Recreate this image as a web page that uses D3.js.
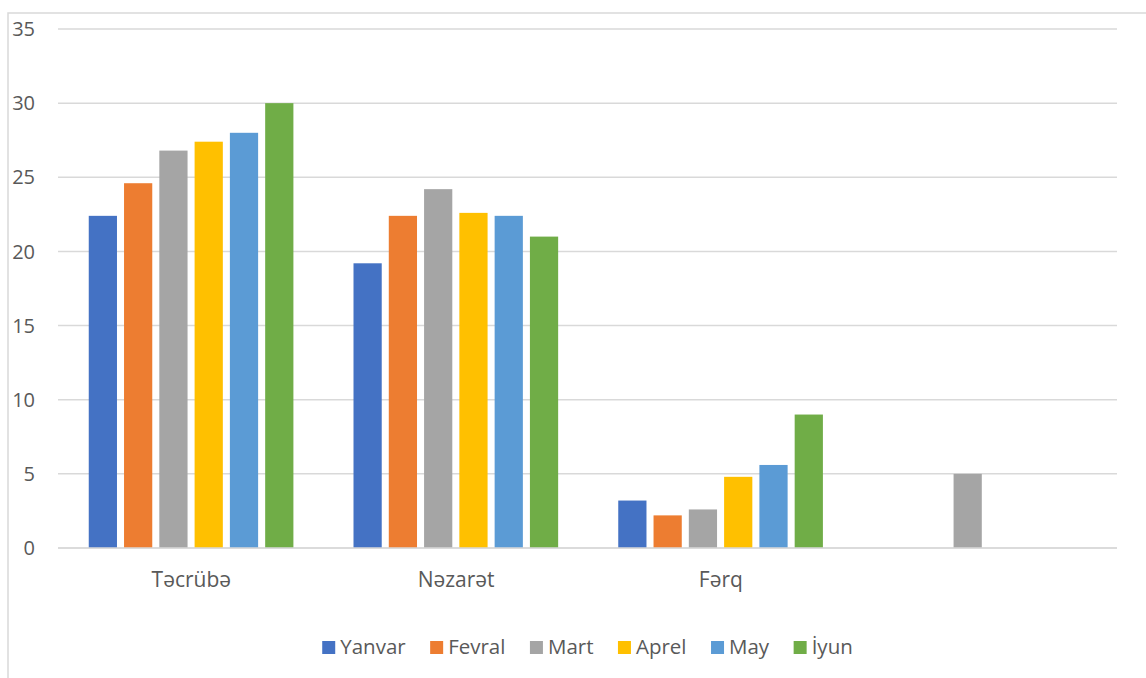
<!DOCTYPE html>
<html>
<head>
<meta charset="utf-8">
<script src="https://cdn.jsdelivr.net/npm/d3@7"></script>
<style>
  html, body { margin: 0; padding: 0; background: #fff; }
  svg { display: block; }
  text { font-family: "Open Sans", "Liberation Sans", sans-serif; fill: #595959; }
</style>
</head>
<body>
<svg id="chart" width="1146" height="678"></svg>
<script>
const categories = ["Təcrübə", "Nəzarət", "Fərq", ""];
const seriesNames = ["Yanvar", "Fevral", "Mart", "Aprel", "May", "İyun"];
const yanvar = [22.4, 19.2, 3.2, null];
const fevral = [24.6, 22.4, 2.2, null];
const mart   = [26.8, 24.2, 2.6, 5.0];
const aprel  = [27.4, 22.6, 4.8, null];
const may    = [28.0, 22.4, 5.6, null];
const iyun   = [30.0, 21.0, 9.0, null];
const seriesValues = [yanvar, fevral, mart, aprel, may, iyun];
const colors = ["#4472C4", "#ED7D31", "#A5A5A5", "#FFC000", "#5B9BD5", "#70AD47"];
const yTicks = [0, 5, 10, 15, 20, 25, 30, 35];

const svg = d3.select("#chart");
const W = 1146, H = 678;
const plot = { left: 58, right: 1117, top: 29, bottom: 548 };

svg.append("path")
  .attr("d", `M8,${H} L8,13 L${W},13`)
  .attr("fill", "none").attr("stroke", "#d9d9d9").attr("stroke-width", 1.5);

const y = d3.scaleLinear().domain([0, 35]).range([plot.bottom, plot.top]);
const x0 = d3.scaleBand().domain(d3.range(categories.length)).range([plot.left, plot.right]).padding(0);
const groupW = x0.bandwidth() * 0.773;
const x1 = d3.scaleBand().domain(seriesNames).range([0, groupW]).paddingInner(0.2).paddingOuter(0);
const groupOffset = (x0.bandwidth() - groupW) / 2 + 0.7;

svg.append("g").selectAll("line").data(yTicks).join("line")
  .attr("x1", plot.left).attr("x2", plot.right)
  .attr("y1", d => y(d)).attr("y2", d => y(d))
  .attr("stroke", "#d9d9d9").attr("stroke-width", 1.5);

svg.append("g").selectAll("text").data(yTicks).join("text")
  .attr("x", 35).attr("y", d => y(d))
  .attr("dy", "0.36em")
  .attr("text-anchor", "end")
  .attr("font-size", 20)
  .text(d => d);

const barData = [];
seriesNames.forEach((s, si) => {
  seriesValues[si].forEach((v, ci) => {
    if (v !== null) barData.push({ s, si, ci, v });
  });
});
svg.append("g").selectAll("rect").data(barData).join("rect")
  .attr("x", d => x0(d.ci) + groupOffset + x1(d.s))
  .attr("width", x1.bandwidth())
  .attr("y", d => y(d.v))
  .attr("height", d => y(0) - y(d.v))
  .attr("fill", d => colors[d.si]);

svg.append("line")
  .attr("x1", plot.left).attr("x2", plot.right)
  .attr("y1", y(0)).attr("y2", y(0))
  .attr("stroke", "#d9d9d9").attr("stroke-width", 1.5);

svg.append("g").selectAll("text").data(categories).join("text")
  .attr("x", (d, i) => x0(i) + x0.bandwidth() / 2 + 1)
  .attr("y", 587)
  .attr("text-anchor", "middle")
  .attr("font-size", 21)
  .text(d => d);

const legend = svg.append("g");
const items = legend.selectAll("g").data(seriesNames).join("g");
items.append("rect").attr("width", 13).attr("height", 13).attr("y", -13)
  .attr("fill", (d, i) => colors[i]);
items.append("text").attr("x", 18).attr("y", 0).attr("font-size", 20.5).text(d => d);
let cx = 0;
const offs = [];
const gap = 24.5;
items.each(function (d, i) {
  offs.push(cx);
  const tw = d3.select(this).select("text").node().getComputedTextLength();
  cx += 18 + tw + gap;
});
const totalW = cx - gap;
const startX = 587.5 - totalW / 2;
items.attr("transform", (d, i) => `translate(${startX + offs[i]},654)`);
</script>
</body>
</html>
